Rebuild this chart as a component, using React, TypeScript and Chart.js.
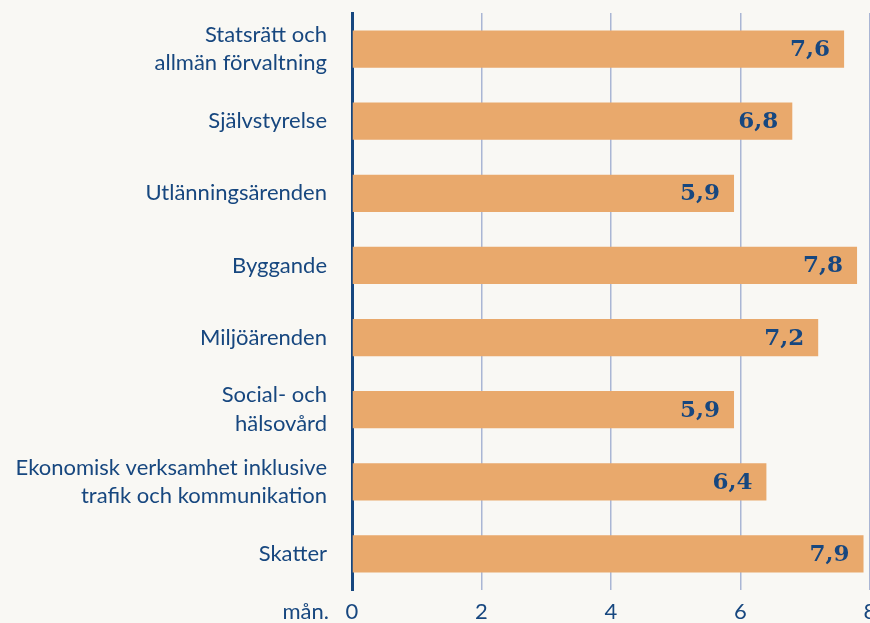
import React, { useEffect, useRef } from "react";
import { Chart, registerables } from "chart.js";

Chart.register(...registerables);

const categories: (string | string[])[] = [
  ["Statsrätt och", "allmän förvaltning"],
  "Självstyrelse",
  "Utlänningsärenden",
  "Byggande",
  "Miljöärenden",
  ["Social- och", "hälsovård"],
  ["Ekonomisk verksamhet inklusive", "trafik och kommunikation"],
  "Skatter",
];
const values: number[] = [7.6, 6.8, 5.9, 7.8, 7.2, 5.9, 6.4, 7.9];
const xTicks: number[] = [0, 2, 4, 6, 8];
const unitLabel = "mån.";

const BG = "#f9f8f4";
const BAR = "#e9a96c";
const NAVY = "#17477f";
const GRID = "#aab6d4";
const FONT = "Lato, 'Open Sans', sans-serif";

const valueLabels = {
  id: "valueLabels",
  afterDatasetsDraw(chart: any) {
    const ctx = chart.ctx;
    const meta = chart.getDatasetMeta(0);
    ctx.save();
    ctx.fillStyle = NAVY;
    ctx.font = "bold 23px 'DejaVu Serif', Georgia, serif";
    ctx.textAlign = "right";
    ctx.textBaseline = "middle";
    meta.data.forEach((el: any, i: number) => {
      const txt = values[i].toFixed(1).replace(".", ",");
      ctx.fillText(txt, el.x - 14, el.y + 1);
    });
    ctx.restore();
  },
};

const unitPlugin = {
  id: "unitLabel",
  afterDraw(chart: any) {
    const ctx = chart.ctx;
    ctx.save();
    ctx.fillStyle = NAVY;
    ctx.font = "22px " + FONT;
    ctx.textAlign = "right";
    ctx.textBaseline = "middle";
    ctx.fillText(unitLabel, 329, 612);
    ctx.restore();
  },
};

export default function App() {
  const ref = useRef<HTMLCanvasElement>(null);
  useEffect(() => {
    document.body.style.margin = "0";
    document.body.style.background = BG;
    const chart = new Chart(ref.current!, {
      type: "bar",
      data: {
        labels: categories,
        datasets: [
          {
            data: values,
            backgroundColor: BAR,
            borderWidth: 0,
            categoryPercentage: 1,
            barPercentage: 0.515,
          },
        ],
      },
      options: {
        indexAxis: "y",
        animation: false,
        responsive: false,
        maintainAspectRatio: false,
        layout: { padding: { top: 13, right: 0, bottom: 0, left: 0 } },
        plugins: { legend: { display: false }, tooltip: { enabled: false } },
        scales: {
          x: {
            min: 0,
            max: 8,
            afterBuildTicks: (axis: any) => {
              axis.ticks = xTicks.map((v) => ({ value: v }));
            },
            afterFit: (axis: any) => {
              axis.height = 33;
              axis.paddingLeft = 0;
              axis.paddingRight = 0;
            },
            grid: {
              color: (c: any) => (c.tick && c.tick.value === 0 ? "rgba(0,0,0,0)" : GRID),
              lineWidth: 1.5,
              drawTicks: false,
            },
            border: { display: false },
            ticks: {
              color: NAVY,
              font: { family: FONT, size: 22 },
              padding: 9,
            },
          },
          y: {
            grid: { display: false, drawTicks: false },
            border: { display: true, color: NAVY, width: 3 },
            afterFit: (axis: any) => {
              axis.width = 352;
              axis.paddingTop = 0;
              axis.paddingBottom = 0;
            },
            ticks: {
              color: NAVY,
              font: { family: FONT, size: 22, lineHeight: 1.3 },
              padding: 25,
            },
          },
        },
      },
      plugins: [valueLabels, unitPlugin],
    });
    return () => chart.destroy();
  }, []);
  return (
    <div style={{ position: "fixed", left: 0, top: 0, width: 870, height: 623, background: BG }}>
      <canvas ref={ref} width={870} height={623} style={{ display: "block" }} />
    </div>
  );
}
